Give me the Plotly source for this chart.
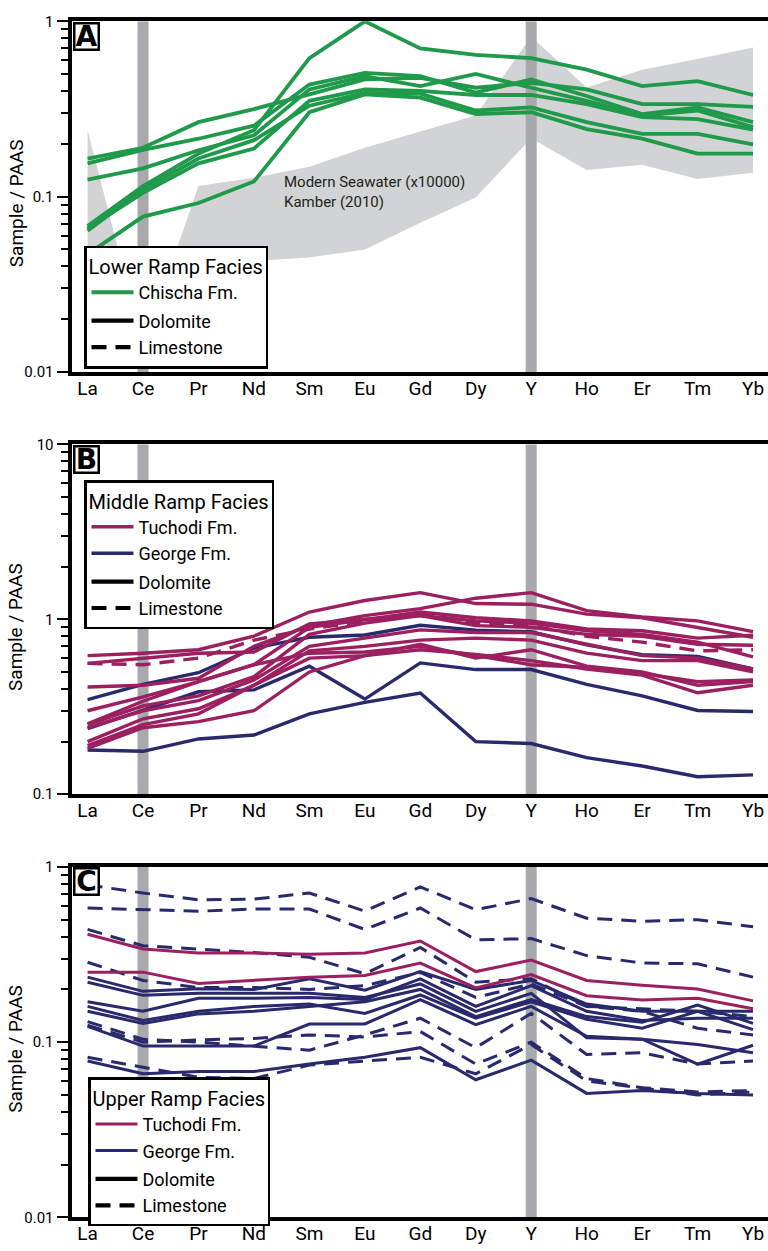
import plotly.graph_objects as go

# ---------------- data ----------------
elements = ["La", "Ce", "Pr", "Nd", "Sm", "Eu", "Gd", "Dy", "Y", "Ho", "Er", "Tm", "Yb"]
anomaly_elements = ["Ce", "Y"]

# Panel A - Lower ramp facies, Chischa Fm. (dolomite)
chischa_1 = [0.068, 0.115, 0.176, 0.239, 0.617, 1.00, 0.700, 0.644, 0.617, 0.530, 0.427, 0.456, 0.380]
chischa_2 = [0.165, 0.190, 0.266, 0.316, 0.383, 0.466, 0.476, 0.418, 0.446, 0.409, 0.337, 0.337, 0.325]
chischa_3 = [0.155, 0.185, 0.214, 0.254, 0.436, 0.508, 0.487, 0.392, 0.466, 0.375, 0.296, 0.323, 0.266]
chischa_4 = [0.125, 0.145, 0.184, 0.224, 0.409, 0.487, 0.427, 0.501, 0.418, 0.352, 0.290, 0.310, 0.249]
chischa_5 = [0.066, 0.105, 0.155, 0.188, 0.352, 0.409, 0.401, 0.380, 0.380, 0.337, 0.284, 0.277, 0.241]
chischa_6 = [0.047, 0.077, 0.092, 0.122, 0.303, 0.383, 0.367, 0.296, 0.303, 0.243, 0.214, 0.176, 0.176]
chischa_7 = [0.064, 0.110, 0.165, 0.210, 0.330, 0.390, 0.387, 0.310, 0.323, 0.266, 0.228, 0.228, 0.199]

# Modern seawater (x10000), Kamber (2010) envelope
seawater_upper = [0.24, 0.014, 0.115, 0.128, 0.148, 0.19, 0.235, 0.29, 0.82, 0.42, 0.53, 0.61, 0.71]
seawater_lower = [0.02, 0.011, 0.041, 0.043, 0.045, 0.050, 0.071, 0.099, 0.215, 0.142, 0.152, 0.126, 0.137]

# Panel B - Middle ramp facies
george_b_dol_1 = [0.347, 0.425, 0.495, 0.684, 0.789, 0.813, 0.925, 0.867, 0.848, 0.714, 0.627, 0.614, 0.521]
george_b_dol_2 = [0.237, 0.301, 0.385, 0.395, 0.539, 0.350, 0.563, 0.516, 0.516, 0.425, 0.365, 0.301, 0.297]
george_b_dol_3 = [0.179, 0.176, 0.207, 0.218, 0.288, 0.335, 0.379, 0.200, 0.195, 0.162, 0.145, 0.126, 0.129]

tuchodi_b_dol_1 = [0.62, 0.64, 0.67, 0.80, 1.10, 1.28, 1.42, 1.23, 1.22, 1.07, 1.02, 0.90, 0.79]
tuchodi_b_dol_2 = [0.41, 0.42, 0.46, 0.70, 0.92, 1.05, 1.15, 1.32, 1.42, 1.12, 1.03, 0.98, 0.85]
tuchodi_b_lim_1 = [0.56, 0.55, 0.60, 0.76, 0.88, 0.98, 1.08, 0.95, 0.92, 0.80, 0.74, 0.66, 0.67]
tuchodi_b_dol_3 = [0.30, 0.36, 0.44, 0.55, 0.90, 1.00, 1.10, 1.02, 0.98, 0.88, 0.86, 0.78, 0.81]
tuchodi_b_dol_4 = [0.25, 0.32, 0.365, 0.47, 0.82, 0.95, 1.05, 0.98, 0.95, 0.86, 0.82, 0.74, 0.61]
tuchodi_b_dol_5 = [0.24, 0.30, 0.343, 0.45, 0.70, 0.78, 0.87, 0.84, 0.84, 0.72, 0.62, 0.60, 0.52]
tuchodi_b_dol_6 = [0.20, 0.27, 0.308, 0.42, 0.66, 0.70, 0.76, 0.78, 0.76, 0.64, 0.58, 0.58, 0.50]
tuchodi_b_dol_7 = [0.19, 0.25, 0.288, 0.42, 0.60, 0.62, 0.72, 0.60, 0.67, 0.54, 0.50, 0.42, 0.44]
tuchodi_b_dol_8 = [0.183, 0.24, 0.26, 0.30, 0.50, 0.62, 0.67, 0.63, 0.58, 0.52, 0.48, 0.38, 0.42]
tuchodi_b_dol_9 = [0.253, 0.34, 0.44, 0.55, 0.64, 0.65, 0.70, 0.62, 0.55, 0.53, 0.49, 0.44, 0.45]
tuchodi_b_dol_10 = [0.56, 0.60, 0.64, 0.65, 0.94, 1.00, 1.05, 0.92, 0.90, 0.82, 0.80, 0.72, 0.71]

# Panel C - Upper ramp facies
tuchodi_c_dol_1 = [0.413, 0.340, 0.323, 0.323, 0.318, 0.323, 0.378, 0.253, 0.294, 0.225, 0.211, 0.201, 0.172]
tuchodi_c_dol_2 = [0.251, 0.251, 0.216, 0.225, 0.235, 0.240, 0.283, 0.204, 0.243, 0.184, 0.174, 0.178, 0.155]

george_c_dol_1 = [0.235, 0.195, 0.202, 0.200, 0.230, 0.198, 0.253, 0.200, 0.225, 0.165, 0.150, 0.150, 0.150]
george_c_dol_2 = [0.170, 0.150, 0.178, 0.178, 0.180, 0.175, 0.230, 0.160, 0.210, 0.150, 0.133, 0.137, 0.137]
george_c_dol_3 = [0.160, 0.133, 0.150, 0.160, 0.165, 0.146, 0.186, 0.137, 0.170, 0.135, 0.120, 0.150, 0.118]
george_c_dol_4 = [0.123, 0.095, 0.095, 0.095, 0.127, 0.127, 0.175, 0.126, 0.160, 0.108, 0.104, 0.097, 0.087]
george_c_dol_5 = [0.078, 0.066, 0.068, 0.068, 0.075, 0.082, 0.093, 0.061, 0.079, 0.051, 0.053, 0.051, 0.050]
george_c_dol_6 = [0.220, 0.185, 0.190, 0.190, 0.190, 0.180, 0.215, 0.150, 0.190, 0.106, 0.104, 0.075, 0.096]
george_c_dol_7 = [0.150, 0.128, 0.145, 0.150, 0.160, 0.170, 0.200, 0.140, 0.175, 0.140, 0.130, 0.163, 0.128]

george_c_lim_1 = [0.79, 0.71, 0.65, 0.655, 0.71, 0.56, 0.77, 0.57, 0.66, 0.51, 0.49, 0.50, 0.456]
george_c_lim_2 = [0.583, 0.571, 0.559, 0.575, 0.575, 0.44, 0.583, 0.384, 0.39, 0.312, 0.283, 0.28, 0.235]
george_c_lim_3 = [0.44, 0.355, 0.34, 0.325, 0.305, 0.246, 0.347, 0.22, 0.23, 0.16, 0.155, 0.15, 0.14]
george_c_lim_4 = [0.286, 0.225, 0.205, 0.205, 0.20, 0.21, 0.25, 0.18, 0.215, 0.16, 0.15, 0.12, 0.11]
george_c_lim_5 = [0.131, 0.104, 0.10, 0.095, 0.09, 0.11, 0.137, 0.093, 0.146, 0.085, 0.087, 0.075, 0.078]
george_c_lim_6 = [0.125, 0.10, 0.103, 0.105, 0.11, 0.107, 0.115, 0.075, 0.10, 0.062, 0.055, 0.052, 0.053]
george_c_lim_7 = [0.082, 0.072, 0.063, 0.062, 0.074, 0.078, 0.082, 0.066, 0.097, 0.06, 0.055, 0.05, 0.052]

y_tick_a = [0.01, 0.1, 1]
y_tick_b = [0.1, 1, 10]
y_tick_c = [0.01, 0.1, 1]

# ---------------- style ----------------
FONT = "Roboto, Lato, 'Open Sans', sans-serif"
GREEN = "#1f9a4a"
MAGENTA = "#9c1f60"
NAVY = "#29296d"
BAR = "#a7a9ac"
SEA = "#d1d3d4"
DASH = "15px,9px"
W = 768
H = 1251

x_idx = list(range(len(elements)))
xpos = {e: i for i, e in enumerate(elements)}

fig = go.Figure()

panels = [
    dict(n=1, yr=[-2, 0], ticks=y_tick_a, dom=[1 - 368.3 / H, 1 - 12.5 / H]),
    dict(n=2, yr=[-1, 1], ticks=y_tick_b, dom=[1 - 796.7 / H, 1 - 441.7 / H]),
    dict(n=3, yr=[-2, 0], ticks=y_tick_c, dom=[1 - 1226.0 / H, 1 - 870.5 / H]),
]


def ax(n):
    return ("x" if n == 1 else f"x{n}"), ("y" if n == 1 else f"y{n}")


def add_bars(n, yr, legend):
    xa, ya = ax(n)
    for el in anomaly_elements:
        fig.add_trace(go.Scatter(
            x=[xpos[el], xpos[el]], y=[10 ** yr[0], 10 ** yr[1]],
            mode="lines", line=dict(color=BAR, width=11),
            hoverinfo="skip", showlegend=False, xaxis=xa, yaxis=ya, legend=legend))


def add_line(n, vals, color, dashed, legend, name, show, rank, width=3.4):
    xa, ya = ax(n)
    fig.add_trace(go.Scatter(
        x=x_idx, y=vals, mode="lines", name=name,
        line=dict(color=color, width=width, dash=DASH if dashed else "solid"),
        showlegend=show, legendgroup=f"fm{n}", legendrank=rank,
        xaxis=xa, yaxis=ya, legend=legend))


def add_lith(n, legend):
    xa, ya = ax(n)
    for name, dash, rank in [("Dolomite", "solid", 10), ("Limestone", DASH, 11)]:
        fig.add_trace(go.Scatter(
            x=[None], y=[None], mode="lines", name=name,
            line=dict(color="black", width=4.2, dash=dash),
            legendgroup=f"lith{n}", legendrank=rank, showlegend=True,
            xaxis=xa, yaxis=ya, legend=legend))


# ---- Panel A ----
fig.add_trace(go.Scatter(
    x=x_idx + x_idx[::-1], y=seawater_upper + seawater_lower[::-1],
    fill="toself", fillcolor=SEA, mode="none", hoverinfo="skip",
    showlegend=False, xaxis="x", yaxis="y", legend="legend"))
add_bars(1, [-2, 0], "legend")
chischa = [chischa_1, chischa_2, chischa_3, chischa_4, chischa_5, chischa_6, chischa_7]
for i, s in enumerate(chischa):
    add_line(1, s, GREEN, False, "legend", "Chischa Fm.", i == 0, 1, width=3.8)
add_lith(1, "legend")

# ---- Panel B ----
add_bars(2, [-1, 1], "legend2")
for i, s in enumerate([george_b_dol_1, george_b_dol_2, george_b_dol_3]):
    add_line(2, s, NAVY, False, "legend2", "George Fm.", i == 0, 2)
tuch_b = [tuchodi_b_dol_1, tuchodi_b_dol_2, tuchodi_b_lim_1, tuchodi_b_dol_3, tuchodi_b_dol_4,
          tuchodi_b_dol_5, tuchodi_b_dol_6, tuchodi_b_dol_7, tuchodi_b_dol_8, tuchodi_b_dol_9,
          tuchodi_b_dol_10]
for i, s in enumerate(tuch_b):
    add_line(2, s, MAGENTA, s is tuchodi_b_lim_1, "legend2", "Tuchodi Fm.", i == 0, 1)
add_lith(2, "legend2")

# ---- Panel C ----
add_bars(3, [-2, 0], "legend3")
george_c_dol = [george_c_dol_1, george_c_dol_2, george_c_dol_3, george_c_dol_4,
                george_c_dol_5, george_c_dol_6, george_c_dol_7]
george_c_lim = [george_c_lim_1, george_c_lim_2, george_c_lim_3, george_c_lim_4,
                george_c_lim_5, george_c_lim_6, george_c_lim_7]
for i, s in enumerate(george_c_dol):
    add_line(3, s, NAVY, False, "legend3", "George Fm.", i == 0, 2, width=3.0)
for s in george_c_lim:
    add_line(3, s, NAVY, True, "legend3", "George Fm.", False, 2, width=3.0)
for i, s in enumerate([tuchodi_c_dol_1, tuchodi_c_dol_2]):
    add_line(3, s, MAGENTA, False, "legend3", "Tuchodi Fm.", i == 0, 1, width=3.0)
add_lith(3, "legend3")

# ---------------- layout ----------------
layout = dict(
    width=W, height=H, margin=dict(l=0, r=0, t=0, b=0),
    paper_bgcolor="white", plot_bgcolor="white",
    font=dict(family=FONT, color="black"),
    showlegend=True,
)

XDOM = [71.5 / W, 1.0]
for p in panels:
    n = p["n"]
    xk = "xaxis" if n == 1 else f"xaxis{n}"
    yk = "yaxis" if n == 1 else f"yaxis{n}"
    xa, ya = ax(n)
    minor_vals = []
    for d in range(p["yr"][0], p["yr"][1]):
        for k in range(2, 10):
            minor_vals.append(k * 10 ** d)
    layout[xk] = dict(
        domain=XDOM, anchor=ya, range=[-0.29, 12.27],
        tickmode="array", tickvals=x_idx, ticktext=elements,
        tickfont=dict(size=19, family=FONT), ticks="", ticklabelstandoff=-4,
        showline=True, linecolor="black", linewidth=4, mirror=True,
        showgrid=False, zeroline=False, fixedrange=True)
    layout[yk] = dict(
        domain=p["dom"], anchor=xa, type="log", range=p["yr"],
        tickmode="array", tickvals=p["ticks"], ticktext=[f"{v:g}" for v in p["ticks"]],
        tickfont=dict(size=15, family=FONT),
        ticks="outside", ticklen=11, tickwidth=2, tickcolor="black",
        minor=dict(tickvals=minor_vals, ticks="outside", ticklen=7, tickwidth=1.6, tickcolor="black"),
        showline=True, linecolor="black", linewidth=4, mirror=False,
        showgrid=False, zeroline=False, fixedrange=True)

legend_common = dict(
    xanchor="left", yanchor="top", bgcolor="white", bordercolor="black", borderwidth=2.5,
    font=dict(size=18, family=FONT), traceorder="grouped", tracegroupgap=2,
    itemwidth=42, orientation="v")
TITLE_FONT = dict(size=20, family=FONT)
layout["legend"] = dict(legend_common, x=84 / W, y=1 - 240 / H,
                        title=dict(text="Lower Ramp Facies", font=TITLE_FONT))
layout["legend2"] = dict(legend_common, x=84 / W, y=1 - 478 / H,
                         title=dict(text="Middle Ramp Facies", font=TITLE_FONT))
layout["legend3"] = dict(legend_common, x=88 / W, y=1 - 1084 / H,
                         title=dict(text="Upper Ramp Facies", font=TITLE_FONT))

annotations = []
for letter, ytop in [("A", 13), ("B", 442), ("C", 871)]:
    annotations.append(dict(
        text=f"<b>{letter}</b>", xref="paper", yref="paper",
        x=73 / W, y=1 - ytop / H, xanchor="left", yanchor="top", showarrow=False,
        font=dict(size=28, family="DejaVu Sans, Roboto, sans-serif", color="black"),
        bgcolor="white", bordercolor="black", borderwidth=2.5, borderpad=0,
        width=22, height=24, align="center", valign="middle"))
for yc in [197, 627, 1055]:
    annotations.append(dict(
        text="Sample / PAAS", xref="paper", yref="paper", x=16 / W, y=1 - yc / H,
        xanchor="center", yanchor="middle", textangle=-90, showarrow=False,
        font=dict(size=19, family=FONT, color="black")))
annotations.append(dict(
    text="Modern Seawater (x10000)<br>Kamber (2010)", xref="paper", yref="paper",
    x=282 / W, y=1 - 164 / H, xanchor="left", yanchor="top", align="left", showarrow=False,
    font=dict(size=15, family=FONT, color="#231f20")))
layout["annotations"] = annotations

fig.update_layout(**layout)
fig.write_html("out.html")
